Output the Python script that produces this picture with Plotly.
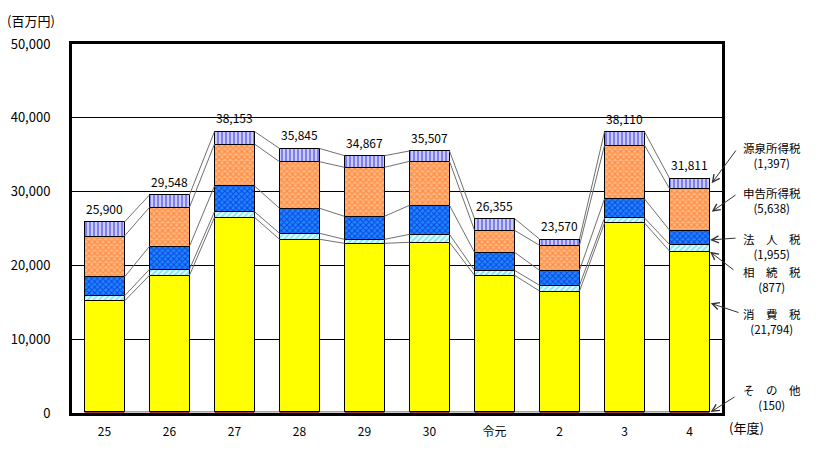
import plotly.graph_objects as go

categories = ["25", "26", "27", "28", "29", "30", "令元", "2", "3", "4"]
totals = [25900, 29548, 38153, 35845, 34867, 35507, 26355, 23570, 38110, 31811]

sonota   = [150, 150, 150, 150, 150, 150, 150, 150, 150, 150]
shohi    = [15030, 18510, 26370, 23390, 22840, 22980, 18510, 16380, 25600, 21794]
sozoku   = [680, 810, 760, 810, 540, 1080, 680, 770, 680, 877]
hojin    = [2570, 3120, 3480, 3390, 3120, 3930, 2440, 2030, 2580, 1955]
shinkoku = [5550, 5280, 5690, 6310, 6640, 5960, 2980, 3390, 7270, 5638]
gensen   = [1920, 1678, 1703, 1795, 1577, 1407, 1595, 850, 1830, 1397]

series = [
    ("その他", sonota, dict(color="#993366", line=dict(color="#993366", width=0.5))),
    ("消費税", shohi, dict(color="#FFFF00", line=dict(color="black", width=1))),
    ("相続税", sozoku, dict(color="white", line=dict(color="black", width=1),
                          pattern=dict(shape="/", fgcolor="#00D8F0", bgcolor="white", size=4, solidity=0.55))),
    ("法人税", hojin, dict(color="#0080FF", line=dict(color="black", width=1),
                         pattern=dict(shape="x", fgcolor="#0000C0", bgcolor="#1E88FF", size=4, solidity=0.45))),
    ("申告所得税", shinkoku, dict(color="#FFB080", line=dict(color="black", width=1),
                             pattern=dict(shape="x", fgcolor="#FF6000", bgcolor="#FFB884", size=4, solidity=0.5))),
    ("源泉所得税", gensen, dict(color="white", line=dict(color="black", width=1),
                             pattern=dict(shape="|", fgcolor="#0000E0", bgcolor="white", size=4, solidity=0.7))),
]

FONT = "Noto Sans CJK JP"
W, H = 818, 450
L, R, T, B = 72, 722, 44, 413
bargap = 0.385
half = (1 - bargap) / 2

xs = list(range(len(categories)))
fig = go.Figure()

for name, vals, marker in series:
    fig.add_trace(go.Bar(x=xs, y=vals, name=name, marker=marker, showlegend=False,
                         hoverinfo="skip"))

# series (connector) lines
cums = []
run = [0] * len(xs)
for _, vals, _ in series:
    run = [a + b for a, b in zip(run, vals)]
    cums.append(list(run))
lx, ly = [], []
for cum in cums:
    for i in range(len(xs) - 1):
        lx += [xs[i] + half, xs[i + 1] - half, None]
        ly += [cum[i], cum[i + 1], None]
fig.add_trace(go.Scatter(x=lx, y=ly, mode="lines", line=dict(color="#707070", width=1),
                         showlegend=False, hoverinfo="skip"))

annotations = []
for i, t in enumerate(totals):
    annotations.append(dict(x=xs[i], y=t, xref="x", yref="y", text=f"{t:,}", showarrow=False,
                            xanchor="center", yanchor="bottom", yshift=3,
                            font=dict(family=FONT, size=12, color="black")))

def px(x):
    return (x - L) / (R - L)

def py(y):
    return (B - y) / (B - T)

labels = [
    ("源泉所得税", "(1,397)", 155, (711.7, 183.3), (737, 149)),
    ("申告所得税", "(5,638)", 200, (711.7, 211.7), (737, 194)),
    ("法　人　税", "(1,955)", 246, (710, 240), (737, 238)),
    ("相　続　税", "(877)", 279, (710, 251.7), (735, 271)),
    ("消　費　税", "(21,794)", 321, (710.7, 303.3), (740, 313)),
    ("そ　の　他", "(150)", 397, (710.7, 412), (736, 396)),
]

def txt(x, y, s, size=12):
    return dict(x=px(x), y=py(y), xref="paper", yref="paper", text=s, showarrow=False,
                xanchor="center", yanchor="middle", align="center", borderpad=0,
                font=dict(family=FONT, size=size, color="black"))

for nm, val, yc, head, tail in labels:
    annotations.append(txt(772, yc, f"{nm}<br>{val}", 11.5))
    annotations.append(dict(x=px(head[0]), y=py(head[1]), xref="paper", yref="paper", text="",
                            showarrow=True, axref="pixel", ayref="pixel",
                            ax=tail[0] - head[0], ay=tail[1] - head[1],
                            arrowhead=5, arrowsize=1.4, arrowwidth=1, arrowcolor="#333333"))

annotations.append(txt(31, 21, "(百万円)", 13))
annotations.append(txt(746, 428, "(年度)", 13))

fig.update_layout(
    width=W, height=H,
    margin=dict(l=L, r=W - R, t=T, b=H - B, pad=0),
    barmode="stack", bargap=bargap,
    plot_bgcolor="white", paper_bgcolor="white",
    annotations=annotations,
    font=dict(family=FONT, size=12, color="black"),
)
fig.update_xaxes(range=[-0.5, len(xs) - 0.5], tickvals=xs, ticktext=categories,
                 showgrid=False, zeroline=False, showline=True, linecolor="black", linewidth=3,
                 mirror=True, ticks="", ticklabelstandoff=6,
                 tickfont=dict(family=FONT, size=12, color="black"), fixedrange=True)
fig.update_yaxes(range=[0, 50000], tickvals=[0, 10000, 20000, 30000, 40000, 50000], tickformat=",",
                 showgrid=True, gridcolor="black", gridwidth=1, zeroline=False,
                 showline=True, linecolor="black", linewidth=3, mirror=True, ticks="",
                 ticklabelstandoff=16, tickfont=dict(family=FONT, size=13, color="black"), fixedrange=True)

fig.write_html("out.html")
